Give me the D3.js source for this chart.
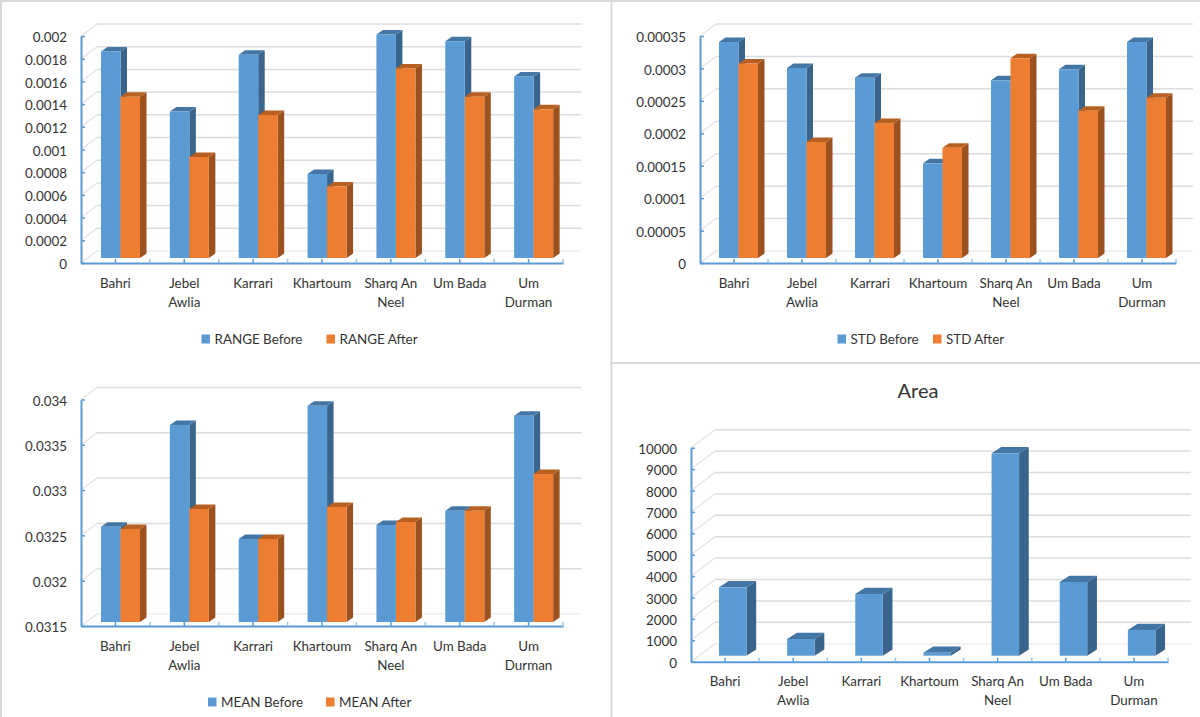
<!DOCTYPE html>
<html>
<head>
<meta charset="utf-8">
<script src="https://cdn.jsdelivr.net/npm/d3@7"></script>
<style>
html, body { margin: 0; padding: 0; background: #fff; }
svg { display: block; }
text { font-family: Lato, "Open Sans", sans-serif; font-size: 13.4px; fill: #333; }
.domain { stroke: #5b9bd5; stroke-width: 2; }
.tick line { stroke: #5b9bd5; stroke-width: 1.5; }
</style>
</head>
<body>
<svg id="chart" width="1200" height="717"></svg>
<script>
var categories = ["Bahri", "Jebel Awlia", "Karrari", "Khartoum", "Sharq An Neel", "Um Bada", "Um Durman"];

var rangeBefore = [0.00182, 0.00129, 0.00179, 0.00074, 0.00197, 0.00191, 0.0016];
var rangeAfter = [0.00142, 0.00089, 0.00126, 0.00063, 0.00167, 0.00142, 0.00131];
var rangeTicks = [0, 0.0002, 0.0004, 0.0006, 0.0008, 0.001, 0.0012, 0.0014, 0.0016, 0.0018, 0.002];

var stdBefore = [0.000333, 0.000293, 0.000278, 0.000146, 0.000274, 0.000291, 0.000333];
var stdAfter = [0.0003, 0.000179, 0.000208, 0.00017, 0.000308, 0.000227, 0.000247];
var stdTicks = [0, 0.00005, 0.0001, 0.00015, 0.0002, 0.00025, 0.0003, 0.00035];

var meanBefore = [0.032552, 0.033674, 0.032416, 0.033887, 0.032571, 0.032728, 0.033777];
var meanAfter = [0.032526, 0.032747, 0.032416, 0.032769, 0.032604, 0.032728, 0.033134];
var meanTicks = [0.0315, 0.032, 0.0325, 0.033, 0.0335, 0.034];

var areaValues = [3196, 780, 2883, 140, 9458, 3444, 1200];
var areaTicks = [0, 1000, 2000, 3000, 4000, 5000, 6000, 7000, 8000, 9000, 10000];

var blue = { front: "#5b9bd5", side: "#39658c", top: "#4376a5" };
var orange = { front: "#ed7d31", side: "#9c521f", top: "#b85f22" };

var svg = d3.select("#chart");

// panel borders
[[1, 0, 1, 717], [0, 1, 1200, 1], [611.5, 0, 611.5, 717], [611.5, 363, 1200, 363]].forEach(function(l) {
    svg.append("line")
        .attr("x1", l[0]).attr("y1", l[1])
        .attr("x2", l[2]).attr("y2", l[3])
        .attr("stroke", "#d9d9d9")
        .attr("stroke-width", 2);
});

function drawPanel(opt) {
    var g = svg.append("g");

    var x = d3.scaleBand().domain(categories).range([opt.left, opt.right]);
    var y = d3.scaleLinear().domain(d3.extent(opt.ticks)).range([opt.base, opt.top]);
    var inner = d3.scaleBand().domain(opt.series.map(function(s) { return s.name; }))
        .range([opt.barStart, opt.barEnd]);

    // back wall gridlines and the diagonals on the side wall
    opt.ticks.forEach(function(t, i) {
        g.append("line")
            .attr("x1", opt.left + opt.wallX).attr("x2", opt.gridEnd)
            .attr("y1", y(t) - opt.wallY).attr("y2", y(t) - opt.wallY)
            .attr("stroke", i == 0 ? "#eeeeee" : "#dcdcdc")
            .attr("stroke-width", 1.5);
        g.append("line")
            .attr("x1", opt.left).attr("x2", opt.left + opt.wallX)
            .attr("y1", y(t)).attr("y2", y(t) - opt.wallY)
            .attr("stroke", "#e2e2e2")
            .attr("stroke-width", 1.2);
    });

    opt.series.forEach(function(s) {
        var bars = g.append("g").selectAll("g")
            .data(s.values)
            .enter()
            .append("g");
        var bx = function(d, i) { return x(categories[i]) + inner(s.name); };
        var by = function(d) { return y(d) - opt.lift; };
        var w = inner.bandwidth();
        var bottom = opt.base - opt.lift;

        bars.append("polygon")
            .attr("fill", s.color.side)
            .attr("points", function(d, i) {
                var x0 = bx(d, i) + w;
                return [[x0, by(d)], [x0 + opt.depthX, by(d) - opt.depthY],
                    [x0 + opt.depthX, bottom - opt.depthY], [x0, bottom]].join(" ");
            });
        bars.append("polygon")
            .attr("fill", s.color.top)
            .attr("points", function(d, i) {
                var x0 = bx(d, i);
                return [[x0, by(d)], [x0 + opt.depthX, by(d) - opt.depthY],
                    [x0 + w + opt.depthX, by(d) - opt.depthY], [x0 + w, by(d)]].join(" ");
            });
        bars.append("rect")
            .attr("fill", s.color.front)
            .attr("x", bx)
            .attr("y", by)
            .attr("width", w)
            .attr("height", function(d) { return bottom - by(d); });
    });

    // axes
    var yAxis = g.append("g")
        .attr("transform", "translate(" + opt.left + ",0)")
        .call(d3.axisLeft(y).tickValues(opt.ticks).tickFormat(String).tickSize(-4).tickSizeOuter(0).tickPadding(14));
    yAxis.selectAll(".tick text").attr("dy", "0.42em");

    var xAxis = g.append("g")
        .attr("transform", "translate(0," + opt.base + ")")
        .call(d3.axisBottom(x).tickSize(-4).tickSizeOuter(0).tickPadding(0));

    // band edge ticks
    x.domain().forEach(function(c) {
        xAxis.append("line")
            .attr("x1", x(c) + x.bandwidth()).attr("x2", x(c) + x.bandwidth())
            .attr("y1", 0).attr("y2", -4)
            .attr("stroke", "#9dc3e6")
            .attr("stroke-width", 1.5);
    });

    xAxis.selectAll(".tick text").each(function(c) {
        var words = c.split(" ");
        var lines = c == "Um Bada" || c == "Karrari" || c == "Khartoum" || c == "Bahri" ? [c]
            : [words.slice(0, words.length - 1).join(" "), words[words.length - 1]];
        var label = d3.select(this).text(null).attr("y", 0).attr("dy", null);
        lines.forEach(function(line, i) {
            label.append("tspan")
                .attr("x", 0)
                .attr("y", opt.labelY - opt.base + i * 19 + 2)
                .attr("dominant-baseline", "middle")
                .text(line);
        });
    });

    // legend
    opt.legend.forEach(function(l, i) {
        g.append("rect")
            .attr("x", l.x).attr("y", opt.legendY - 4.5)
            .attr("width", 8.5).attr("height", 9)
            .attr("fill", opt.series[i].color.front);
        g.append("text")
            .attr("x", l.x + 13).attr("y", opt.legendY + 2)
            .attr("dominant-baseline", "middle")
            .text(opt.series[i].name);
    });

    if (opt.title) {
        g.append("text")
            .attr("x", opt.titleX).attr("y", opt.titleY)
            .attr("text-anchor", "middle")
            .attr("dominant-baseline", "middle")
            .style("font-size", "20px")
            .text(opt.title);
    }
}

drawPanel({
    ticks: rangeTicks,
    series: [{ name: "RANGE Before", values: rangeBefore, color: blue }, { name: "RANGE After", values: rangeAfter, color: orange }],
    left: 81, right: 563, top: 36, base: 263, gridEnd: 581,
    wallX: 16, wallY: 12, barStart: 20, barEnd: 59, depthX: 6.5, depthY: 4.5, lift: 5,
    labelY: 283, legendY: 339, legend: [{ x: 201.5 }, { x: 326.5 }]
});

drawPanel({
    ticks: stdTicks,
    series: [{ name: "STD Before", values: stdBefore, color: blue }, { name: "STD After", values: stdAfter, color: orange }],
    left: 700, right: 1176, top: 36, base: 263, gridEnd: 1193,
    wallX: 16, wallY: 12, barStart: 19, barEnd: 58, depthX: 6.5, depthY: 4.5, lift: 5,
    labelY: 283, legendY: 339, legend: [{ x: 837.5 }, { x: 933 }]
});

drawPanel({
    ticks: meanTicks,
    series: [{ name: "MEAN Before", values: meanBefore, color: blue }, { name: "MEAN After", values: meanAfter, color: orange }],
    left: 81, right: 563, top: 399.5, base: 626, gridEnd: 581,
    wallX: 16, wallY: 12, barStart: 20, barEnd: 59, depthX: 6.5, depthY: 4.5, lift: 4,
    labelY: 646, legendY: 702, legend: [{ x: 208 }, { x: 326 }]
});

drawPanel({
    ticks: areaTicks,
    series: [{ name: "Area", values: areaValues, color: blue }],
    left: 691, right: 1168, top: 447.7, base: 661.7, gridEnd: 1191,
    wallX: 24, wallY: 18, barStart: 28, barEnd: 55.5, depthX: 9.7, depthY: 6.3, lift: 6,
    labelY: 681, legendY: 0, legend: [],
    title: "Area", titleX: 918, titleY: 393
});
</script>
</body>
</html>
